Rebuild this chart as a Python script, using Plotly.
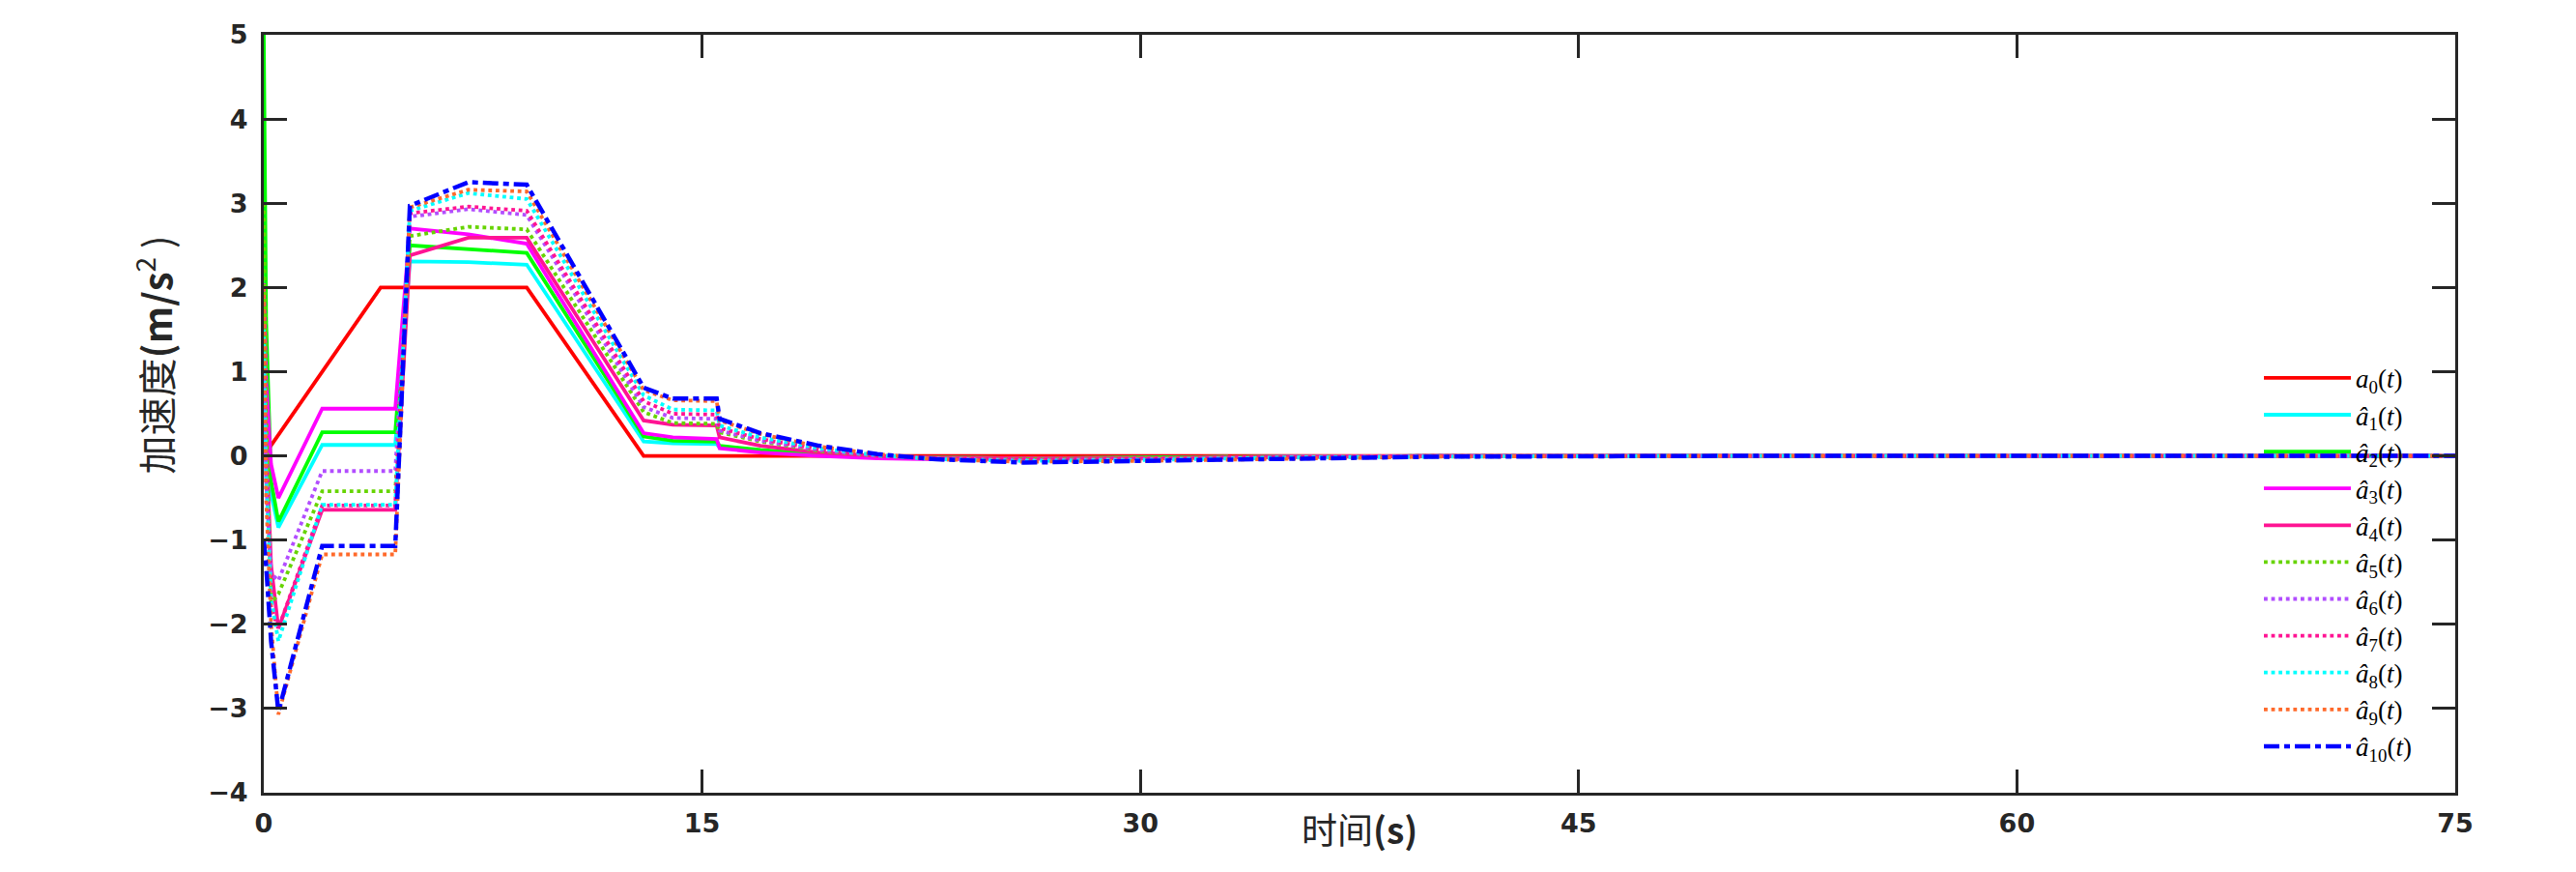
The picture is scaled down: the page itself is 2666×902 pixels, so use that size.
import plotly.graph_objects as go

# leader (reference) acceleration, piecewise linear
t_ref = [0, 4, 9, 13, 75]
a0 = [0, 2, 2, 0, 0]

# follower time grid
t_hat = [0, 0.08, 0.25, 0.5, 2, 4.5, 5, 7, 9, 13, 14, 15.5, 15.6,
         17, 19, 21, 23, 26, 30, 35, 40, 50, 75]

a1 = [1.2, 0.3, -0.45, -0.85, 0.13, 0.13, 2.31, 2.30, 2.27, 0.17, 0.15, 0.14, 0.10,
      0.06, 0.02, -0.01, -0.02, -0.03, -0.02, -0.01, 0.0, 0.0, 0.0]
a2 = [5.0, 1.6, -0.3, -0.78, 0.28, 0.28, 2.50, 2.46, 2.41, 0.23, 0.18, 0.17, 0.12,
      0.07, 0.02, -0.01, -0.02, -0.03, -0.02, -0.01, 0.0, 0.0, 0.0]
a3 = [2.05, 0.9, -0.1, -0.50, 0.56, 0.56, 2.70, 2.63, 2.52, 0.27, 0.22, 0.20, 0.09,
      0.04, 0.0, -0.03, -0.04, -0.04, -0.03, -0.01, 0.0, 0.0, 0.0]
a4 = [1.8, 0.2, -1.3, -2.05, -0.64, -0.64, 2.38, 2.59, 2.59, 0.42, 0.37, 0.36, 0.22,
      0.12, 0.04, 0.0, -0.02, -0.03, -0.03, -0.01, 0.0, 0.0, 0.0]
a5 = [3.0, 0.5, -1.75, -1.64, -0.42, -0.42, 2.61, 2.72, 2.69, 0.52, 0.39, 0.38, 0.28,
      0.17, 0.06, 0.0, -0.03, -0.04, -0.03, -0.02, 0.0, 0.0, 0.0]
a6 = [1.0, -0.3, -1.4, -1.48, -0.18, -0.18, 2.84, 2.93, 2.86, 0.58, 0.45, 0.44, 0.30,
      0.18, 0.07, 0.0, -0.03, -0.05, -0.04, -0.02, 0.0, 0.0, 0.0]
a7 = [1.3, -0.3, -1.8, -2.05, -0.59, -0.59, 2.88, 2.96, 2.91, 0.65, 0.50, 0.49, 0.33,
      0.20, 0.08, 0.01, -0.03, -0.05, -0.04, -0.02, 0.0, 0.0, 0.0]
a8 = [1.5, -0.2, -1.7, -2.2, -0.58, -0.58, 2.91, 3.12, 3.05, 0.72, 0.55, 0.54, 0.36,
      0.22, 0.09, 0.01, -0.04, -0.06, -0.05, -0.02, -0.01, 0.0, 0.0]
a9 = [2.0, -0.5, -2.0, -3.07, -1.17, -1.17, 2.95, 3.16, 3.14, 0.78, 0.66, 0.65, 0.42,
      0.26, 0.11, 0.02, -0.04, -0.07, -0.06, -0.03, -0.01, 0.0, 0.0]
a10 = [-1.0, -1.3, -2.2, -3.04, -1.07, -1.07, 2.97, 3.25, 3.22, 0.81, 0.68, 0.68, 0.44,
       0.27, 0.12, 0.02, -0.04, -0.08, -0.06, -0.03, -0.01, 0.0, 0.0]

followers = [a1, a2, a3, a4, a5, a6, a7, a8, a9, a10]
colors = ["#00ffff", "#00ff00", "#ff00ff", "#ff1493", "#66d400",
          "#b24dff", "#ff1493", "#00ffff", "#ff6a2b", "#0000ff"]
dashes = ["solid", "solid", "solid", "solid", "dot",
          "dot", "dot", "dot", "dot", "16px,5px,6px,5px"]

x_ticks = [0, 15, 30, 45, 60, 75]
y_ticks = [-4, -3, -2, -1, 0, 1, 2, 3, 4, 5]

fig = go.Figure()
fig.add_trace(go.Scatter(x=t_ref, y=a0, mode="lines",
                         line=dict(color="#ff0000", width=3.8),
                         name="<i>a</i><sub>0</sub>(<i>t</i>)"))
for i, (ys, c, d) in enumerate(zip(followers, colors, dashes)):
    fig.add_trace(go.Scatter(x=t_hat, y=ys, mode="lines",
                             line=dict(color=c, width=4.5 if i == 9 else 3.8, dash=d),
                             name="<i>â</i><sub>%d</sub>(<i>t</i>)" % (i + 1)))

axis_style = dict(showline=True, linecolor="#262626", linewidth=3, mirror="ticks",
                  ticks="inside", ticklen=24, tickwidth=3, tickcolor="#262626",
                  showgrid=False, zeroline=False,
                  tickfont=dict(family="DejaVu Sans", size=27, color="#262626",
                                weight="bold"))

fig.update_xaxes(range=[0, 75], tickvals=x_ticks, ticklabelstandoff=6, **axis_style)
fig.update_yaxes(range=[-4, 5], tickvals=y_ticks, ticklabelstandoff=8, **axis_style)

fig.add_annotation(text="时间<b>(s)</b>", xref="paper", yref="paper", x=0.5, y=-0.047,
                   showarrow=False, xanchor="center", yanchor="middle",
                   font=dict(family="Noto Sans CJK SC, DejaVu Sans", size=37, color="#262626"))
fig.add_annotation(text="加速度<b>(m/s</b><sup>2</sup> )", xref="paper", yref="paper",
                   x=-0.05, y=0.578, textangle=-90, showarrow=False,
                   xanchor="center", yanchor="middle",
                   font=dict(family="Noto Sans CJK SC, DejaVu Sans", size=40, color="#262626"))

fig.update_layout(
    width=2666, height=902,
    margin=dict(l=265, r=133, t=19, b=90),
    paper_bgcolor="white", plot_bgcolor="white",
    legend=dict(x=0.9105, y=0.578, xanchor="left", yanchor="top",
                bgcolor="rgba(0,0,0,0)", borderwidth=0, itemwidth=90,
                font=dict(family="Liberation Serif", size=27, color="#000000")),
)

fig.write_html("out.html")
